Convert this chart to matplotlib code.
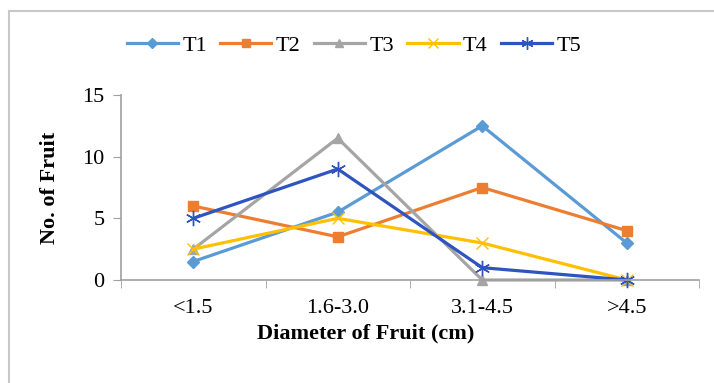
import matplotlib

matplotlib.use("Agg")

import matplotlib.pyplot as plt
from matplotlib.patches import Rectangle

plt.rcParams["font.family"] = ["Liberation Serif", "DejaVu Serif"]

# Fruit counts per diameter class, one list per treatment
categories = ["<1.5", "1.6-3.0", "3.1-4.5", ">4.5"]
t1 = [1.5, 5.5, 12.5, 3]
t2 = [6, 3.5, 7.5, 4]
t3 = [2.5, 11.5, 0, 0]
t4 = [2.5, 5, 3, 0]
t5 = [5, 9, 1, 0]

series = [
    ("T1", t1, "#5B9BD5", "D", 6),
    ("T2", t2, "#ED7D31", "s", 7),
    ("T3", t3, "#A5A5A5", "^", 7),
    ("T4", t4, "#FFC000", "x", 9),
    ("T5", t5, "#2E54C0", (6, 2, 0), 11),
]

fig = plt.figure(figsize=(7.14, 3.83), dpi=100)
ax = fig.add_axes([121 / 714, 1 - 280 / 383, 578 / 714, 185 / 383])

x = range(len(categories))
for name, vals, col, mk, ms in series:
    ax.plot(x, vals, color=col, lw=2.3, marker=mk, ms=ms, mew=1.0, label=name,
            clip_on=False)

ax.set_xlim(-0.5, 3.5)
ax.set_ylim(0, 15)
ax.set_yticks([0, 5, 10, 15])
ax.set_xticks(x)
ax.set_xticklabels(categories)
ax.set_xticks([-0.5, 0.5, 1.5, 2.5, 3.5], minor=True)
ax.tick_params(axis="x", which="major", length=0, pad=14, labelsize=16)
ax.tick_params(axis="x", which="minor", length=6, color="#A0A0A0", direction="out")
ax.tick_params(axis="y", length=6, color="#A0A0A0", labelsize=16, pad=6)
for side in ("top", "right"):
    ax.spines[side].set_visible(False)
for side in ("left", "bottom"):
    ax.spines[side].set_color("#A0A0A0")
    ax.spines[side].set_linewidth(1.2)

fig.text(50 / 714, 1 - 188 / 383, "No. of Fruit", rotation=90, ha="center",
         va="center", fontsize=16, fontweight="bold")
fig.text(366 / 714, 1 - 333 / 383, "Diameter of Fruit (cm)", ha="center",
         va="center", fontsize=16, fontweight="bold")

fig.legend(loc="center", bbox_to_anchor=(354 / 714, 1 - 46 / 383), ncol=5,
           frameon=False, fontsize=16, handlelength=2.3, columnspacing=0.6,
           handletextpad=0.2, markerscale=0.8)

# light frame around the chart area
fig.patches.append(Rectangle((9 / 714, -0.1), 1.1, 1 - 11 / 383 + 0.1,
                             transform=fig.transFigure, fill=False,
                             edgecolor="#C8C8C8", lw=1.5))

fig.savefig("out.png", dpi=100)
